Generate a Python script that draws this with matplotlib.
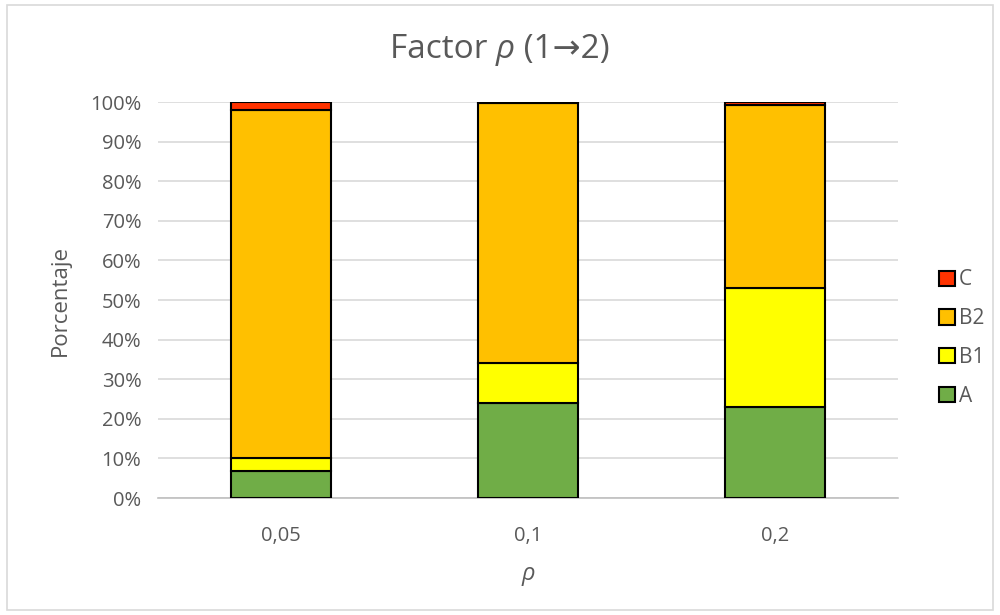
import numpy as np
import matplotlib
matplotlib.use("Agg")
from matplotlib import pyplot as plt
from matplotlib.patches import Rectangle
from matplotlib.ticker import PercentFormatter

plt.rcParams['font.family'] = ['Open Sans', 'DejaVu Sans']

# datos (% de cada clase por valor de rho)
rho_labels = ['0,05', '0,1', '0,2']
A = [6.8, 24.0, 23.0]
B1 = [3.3, 10.1, 30.0]
B2 = [87.9, 65.7, 46.3]
C = [2.0, 0.2, 0.7]

series = [('A', A, '#70AD47'), ('B1', B1, '#FFFF00'),
          ('B2', B2, '#FFC000'), ('C', C, '#FF3300')]

gris = '#595959'

fig = plt.figure(figsize=(10, 6.15), dpi=100)
ax = fig.add_axes([0.158, 0.1902, 0.74, 0.6439])

x = np.arange(len(rho_labels))
bottom = np.zeros(len(rho_labels))
handles = []
for name, vals, col in series:
    b = ax.bar(x, vals, width=0.405, bottom=bottom, color=col,
               edgecolor='black', linewidth=1.5, label=name, zorder=3)
    bottom += np.array(vals)
    handles.append(b)

ax.set_xlim(-0.5, len(rho_labels) - 0.5)
ax.set_ylim(0, 100)
ax.set_yticks(np.arange(0, 101, 10))
ax.yaxis.set_major_formatter(PercentFormatter(decimals=0))
ax.set_xticks(x)
ax.set_xticklabels(rho_labels)
ax.grid(axis='y', color='#D9D9D9', linewidth=1.2, zorder=0)
for s in ['top', 'right', 'left']:
    ax.spines[s].set_visible(False)
ax.spines['bottom'].set_color('#BFBFBF')
ax.spines['bottom'].set_linewidth(1.2)
ax.tick_params(length=0, colors=gris, labelsize=14.5, pad=12)
ax.tick_params(axis='x', pad=20)

ax.set_ylabel('Porcentaje', color=gris, fontsize=16, labelpad=14)
ax.set_xlabel('ρ', color=gris, fontsize=17, style='italic', labelpad=12)

# titulo en tres trozos para poner rho en cursiva
fig.canvas.draw()
r = fig.canvas.get_renderer()
parts = [('Factor ', 'normal'), ('ρ', 'italic'), (' (1→2)', 'normal')]
widths = []
for txt, st in parts:
    t = fig.text(0, 0, txt, fontsize=24, style=st)
    widths.append(t.get_window_extent(r).width)
    t.remove()
xpix = fig.bbox.width / 2 - sum(widths) / 2
for (txt, st), w in zip(parts, widths):
    fig.text(xpix / fig.bbox.width, 0.92, txt, ha='left', va='center',
             color=gris, fontsize=24, style=st)
    xpix += w

leg = ax.legend(handles[::-1], [s[0] for s in series][::-1],
                loc='center left', bbox_to_anchor=(1.03, 0.404),
                frameon=False, fontsize=15, labelspacing=0.85,
                handlelength=0.75, handleheight=0.75, handletextpad=0.2)
for t in leg.get_texts():
    t.set_color(gris)

# marco exterior del grafico
fig.patches.append(Rectangle((0.007, 0.008), 0.986, 0.984, transform=fig.transFigure,
                             fill=False, edgecolor='#D9D9D9', linewidth=1.2))

fig.savefig('out.png', dpi=100)
